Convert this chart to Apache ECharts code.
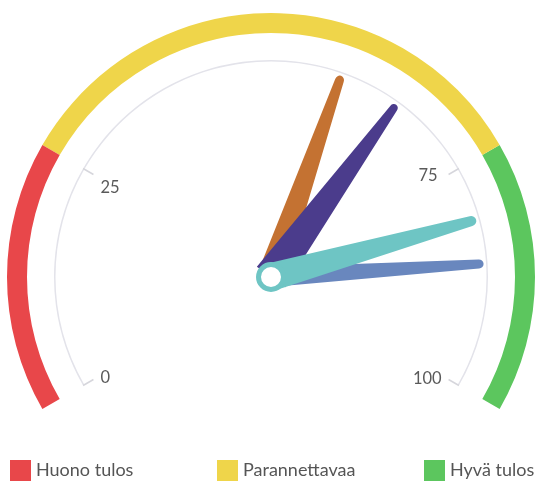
<!DOCTYPE html>
<html>
<head>
<meta charset="utf-8">
<script src="https://cdn.jsdelivr.net/npm/echarts@6/dist/echarts.min.js"></script>
<style>
  html, body { margin: 0; padding: 0; background: #ffffff; }
  #chart { width: 536px; height: 484px; }
</style>
</head>
<body>
<div id="chart"></div>
<script>
// ---- data ----
const categories = ['Huono tulos', 'Parannettavaa', 'Hyvä tulos'];
const bandStops = [0.25, 0.75, 1];
const bandColors = ['#E8474A', '#EFD54A', '#5CC65E'];
const needleValues = [58, 65, 86, 81];
const needleColors = ['#C47232', '#4B3C8C', '#6987BE', '#6EC5C4'];
const tickGroupA = [0, 25];
const tickGroupB = [75, 100];

// ---- styles ----
const needleShapes = [
  { base: 28, tip: 9 },
  { base: 35, tip: 8 },
  { base: 20, tip: 9 },
  { base: 28, tip: 10 }
];
const labelPad = { 0: [4, 0, 0, 0], 25: [18, 0, 0, 0], 75: [0, 4, 6, 0], 100: [6, 0, 0, 0] };
const FONT = 'Lato, "Noto Sans", sans-serif';
const CENTER = [271, 277];
const START = 210, END = -30;

function angleOf(v) { return START + (END - START) * v / 100; }
function needlePath(b, t) {
  const h = t / 2;
  return 'path://M' + ((b - t) / 2) + ',' + h + ' A' + h + ',' + h + ' 0 0 1 ' + ((b + t) / 2) + ',' + h +
    ' L' + b + ',200 L0,200 Z';
}

const hidden = {
  axisLine: { show: false, lineStyle: { width: 0 } },
  axisTick: { show: false },
  splitLine: { show: false },
  axisLabel: { show: false },
  pointer: { show: false },
  anchor: { show: false },
  title: { show: false },
  detail: { show: false },
  progress: { show: false }
};

const series = [];

// coloured outer band
series.push(Object.assign({}, hidden, {
  type: 'gauge', center: CENTER, radius: 264,
  startAngle: START, endAngle: END, min: 0, max: 100,
  axisLine: { show: true, lineStyle: { width: 20, color: bandStops.map((s, i) => [s, bandColors[i]]) } },
  data: []
}));

// thin grey axis arc
series.push(Object.assign({}, hidden, {
  type: 'gauge', center: CENTER, radius: 217,
  startAngle: START, endAngle: END, min: 0, max: 100,
  axisLine: { show: true, lineStyle: { width: 1.5, color: [[1, '#E3E3EA']] } },
  data: []
}));

// tick groups
const rich = {};
Object.keys(labelPad).forEach(k => {
  rich['v' + k] = { padding: labelPad[k], color: '#5a5a5a', fontSize: 16.5, fontFamily: FONT };
});
[tickGroupA, tickGroupB].forEach(g => {
  series.push(Object.assign({}, hidden, {
    type: 'gauge', center: CENTER, radius: 217,
    startAngle: angleOf(g[0]), endAngle: angleOf(g[1]),
    min: g[0], max: g[1], splitNumber: 1,
    splitLine: { show: true, length: 12, distance: 0, lineStyle: { color: '#D6D6DC', width: 1.5 } },
    axisLabel: {
      show: true, distance: 8, color: '#5a5a5a', fontSize: 16.5, fontFamily: FONT,
      formatter: v => '{v' + v + '|' + v + '}', rich: rich
    },
    data: []
  }));
});

// needles
needleValues.forEach((v, i) => {
  const last = i === needleValues.length - 1;
  const s = needleShapes[i];
  series.push(Object.assign({}, hidden, {
    type: 'gauge', center: CENTER, radius: 217,
    startAngle: START, endAngle: END, min: 0, max: 100,
    pointer: { show: true, icon: needlePath(s.base, s.tip), length: 213, width: s.base, keepAspect: false },
    itemStyle: { color: needleColors[i] },
    anchor: last ? { show: true, showAbove: true, size: 25,
      itemStyle: { color: '#ffffff', borderColor: needleColors[i], borderWidth: 5 } } : { show: false },
    data: [{ value: v, itemStyle: { color: needleColors[i] } }]
  }));
});

// legend series (names only)
categories.forEach(c => {
  series.push(Object.assign({}, hidden, {
    type: 'gauge', name: c, center: CENTER, radius: 10, data: []
  }));
});

const legendLefts = [10, 217, 424];
const legend = categories.map((c, i) => ({
  data: [{ name: c, icon: 'rect', itemStyle: { color: bandColors[i] } }],
  left: legendLefts[i], top: 460, padding: 0,
  itemWidth: 21, itemHeight: 21, selectedMode: false,
  textStyle: { fontSize: 18, color: '#555555', fontFamily: FONT }
}));

const chart = echarts.init(document.getElementById('chart'), null, { renderer: 'canvas' });
chart.setOption({
  animation: false,
  backgroundColor: '#ffffff',
  legend: legend,
  series: series
});
</script>
</body>
</html>
